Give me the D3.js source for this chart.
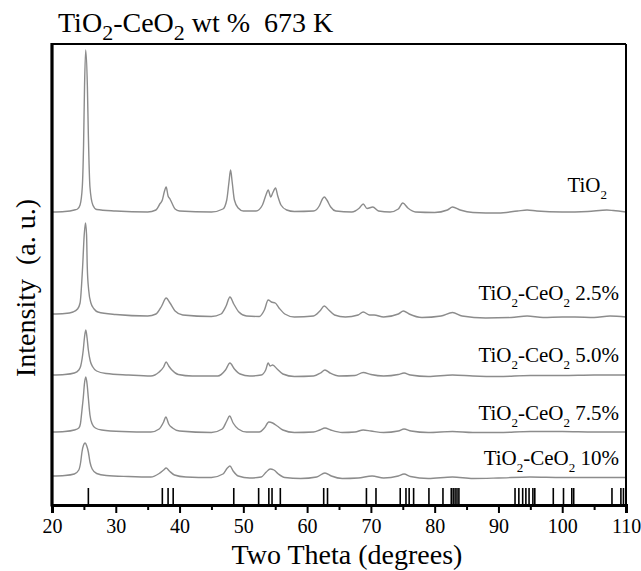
<!DOCTYPE html>
<html><head><meta charset="utf-8">
<script src="https://cdn.jsdelivr.net/npm/d3@7"></script>
<style>html,body{margin:0;padding:0;background:#fff}svg{display:block}</style>
</head><body>
<svg id="c" width="641" height="571"></svg>
<script>
// 2θ (degrees) vs stacked intensity (a.u.)
const tio2 = [[20,293],[22,293.5],[23.5,295],[24.0,296],[24.4,300],[24.75,318],[24.95,360],[25.1,418],[25.28,455],[25.55,418],[25.7,370],[25.95,318],[26.4,300],[27,295.5],[30,294],[35,293],[36.3,295],[36.9,301],[37.3,305],[37.6,313],[37.9,318],[38.2,309],[38.5,306],[38.8,302],[39.3,296],[40,294],[45,293],[46.8,296],[47.4,305],[47.75,323],[48.0,335],[48.25,323],[48.6,305],[49.2,297],[50,294],[52,294],[53,300],[53.6,311],[53.9,315],[54.3,308],[54.6,312],[55.05,317],[55.4,309],[55.9,300],[56.8,295],[58,293.5],[61,294],[61.9,299],[62.4,306],[62.7,308],[63.1,305],[63.7,298],[64.5,294],[67,293],[68.2,297],[68.8,301],[69.4,296.5],[70.3,298],[71.2,294],[73,293],[74.3,296],[75.0,302],[75.8,297],[77,293],[80,292.5],[82,295],[82.8,298],[84,295],[86,292.5],[90,292],[93,294],[94.5,295],[96,294],[100,293],[104,293.5],[107,295],[108,294.5],[110,293]];
const ce25 = [[20,191],[22,191.5],[23.3,193],[24.0,196],[24.4,202],[24.8,238],[25.05,270],[25.25,282],[25.42,270],[25.53,238],[25.75,215],[26.1,202],[26.6,196],[27.2,193],[30,190.5],[35,189],[36.3,191],[37.2,199],[37.9,207],[38.5,202],[39.3,194],[40.5,190],[45,188.5],[46.5,191],[47.3,199],[47.9,208],[48.5,201],[49.3,193],[50.5,189],[52.5,188.5],[53.3,195],[53.9,205],[54.4,203],[55.0,202],[55.6,197],[56.5,191],[58,188],[61,189],[62.0,194],[62.7,199],[63.4,195],[64.3,190],[66,188],[68.0,190],[68.8,193],[69.8,190],[70.5,190],[72,188],[74.3,191],[75.1,194],[76,191],[78,187.5],[81,189],[82.8,192.5],[84.3,189],[88,187],[92,187.5],[94.5,189],[97,187.5],[100,188],[102,188],[105,187.5],[107.5,189],[110,188]];
const ce50 = [[20,130],[22,130.5],[23.5,132],[24.2,135],[24.5,139],[24.9,155],[25.1,168],[25.3,175],[25.5,167],[25.7,155],[26.0,144],[26.4,138],[27.0,134],[28.5,131.5],[32,130],[35.5,129],[36.8,133],[37.5,138],[37.9,143],[38.3,139],[38.8,135],[39.8,130.5],[42,129],[46,129],[47.2,135],[47.9,142],[48.6,136],[49.5,131],[51,129],[52.8,130],[53.5,135],[53.9,142],[54.2,139],[54.6,140],[55.3,136],[56.2,131],[58,128.5],[61,129],[62.1,132],[62.8,135],[63.6,132],[65,129],[67.5,129.5],[68.8,132.5],[70,130.5],[72,129],[74.3,130.5],[75.2,132],[76.2,130],[79,128.5],[82.8,130],[86,129],[90,128.5],[95,129.5],[100,129.5],[105,130],[110,130]];
const ce75 = [[20,73],[22,73.5],[23.5,75],[24.2,77],[24.45,81],[24.7,95],[24.9,107],[25.1,122],[25.3,128],[25.5,121],[25.7,107],[25.95,90],[26.3,81],[26.8,77],[27.8,75],[31,73.5],[35.5,73],[36.8,76],[37.5,83],[37.85,88],[38.3,81],[38.9,77],[40,74],[45,72.5],[46.7,76],[47.4,84],[47.85,89],[48.4,82],[49.2,76],[50.5,73],[52.5,73],[53.3,77],[54.0,83],[54.6,82],[55.3,79],[56.2,75],[58,72.5],[61,73],[62.0,75],[62.8,77],[63.7,75],[65.5,72.5],[67.5,73],[68.8,75],[70,74],[72,72.5],[74.3,74],[75.2,76],[76.3,74],[79,72.5],[82.8,73.5],[86,72.5],[90,72.5],[95,73.5],[100,73.5],[105,73],[110,73]];
const ce10 = [[20,29],[22,29.5],[23.5,31],[24.2,35],[24.5,43],[24.7,53],[24.95,60],[25.2,62],[25.45,59],[25.7,53],[25.95,43],[26.3,36],[27,31.5],[28.5,29.5],[32,28.5],[35.5,28],[36.8,31.5],[37.5,35],[37.9,37],[38.4,34],[39.2,30],[41,28],[45,27.5],[46.8,31],[47.5,37],[47.9,39],[48.4,34],[49.2,29],[51,27],[52.8,28],[53.6,33],[54.2,36],[54.8,35],[55.5,31],[56.5,27.5],[59,26.5],[61.5,28],[62.8,32],[63.8,29],[65.5,26.5],[68,27],[70.2,29],[72,27],[74.3,29],[75.2,31],[76.2,28.5],[79,26.5],[82.8,28],[86,26.5],[90,27],[95,28],[100,27.5],[105,27.5],[110,27.5]];
const seriesNames = ["TiO2", "TiO2-CeO2 2.5%", "TiO2-CeO2 5.0%", "TiO2-CeO2 7.5%", "TiO2-CeO2 10%"];
const seriesData = [tio2, ce25, ce50, ce75, ce10];
const labelSuffix = ["", " 2.5%", " 5.0%", " 7.5%", " 10%"];
const labelLevel = [313, 205, 143, 85, 40];
// reference (JCPDS) line positions and heights
const refPeaks = [25.7,37.3,38.2,39.0,48.5,52.4,54.0,54.5,55.8,62.6,63.2,69.3,70.8,74.6,75.5,76.0,76.7,79.1,81.3,82.6,82.9,83.2,83.5,83.8,92.6,93.2,93.8,94.3,94.8,95.4,95.7,98.6,100.2,101.5,101.8,107.8,109.2,109.6];
const refHeight = 17;
const xTicks = [20,30,40,50,60,70,80,90,100,110];
const xMinor = [25,35,45,55,65,75,85,95,105];

const FF = '"Liberation Serif"';
const svg = d3.select("#c");
const L = 52, R = 626, T = 44, B = 505;
const x = d3.scaleLinear().domain([20,110]).range([L,R]);
const y = d3.scaleLinear().domain([0,461]).range([B,T]);

// curves
const line = d3.line().x(d=>x(d[0])).y(d=>y(d[1])).curve(d3.curveMonotoneX);
svg.selectAll("path.s").data(seriesData).join("path").attr("class","s")
  .attr("d", line).attr("fill","none").attr("stroke","#8c8c8c").attr("stroke-width",1.4);

// reference lines
svg.selectAll("line.ref").data(refPeaks).join("line").attr("class","ref")
  .attr("x1",d=>x(d)).attr("x2",d=>x(d)).attr("y1",y(0)).attr("y2",y(refHeight))
  .attr("stroke","#000").attr("stroke-width",1.6);

// frame
svg.append("line").attr("x1",L).attr("x2",R).attr("y1",T).attr("y2",T).attr("stroke","#000").attr("stroke-width",2.2);
svg.append("line").attr("x1",R).attr("x2",R).attr("y1",T).attr("y2",B).attr("stroke","#000").attr("stroke-width",2);
svg.append("line").attr("x1",L).attr("x2",L).attr("y1",T-1).attr("y2",B+1.5).attr("stroke","#000").attr("stroke-width",3.2);

// x axis
const ax = svg.append("g").attr("transform",`translate(0,${B})`)
  .call(d3.axisBottom(x).tickValues(xTicks).tickSize(8).tickPadding(6).tickFormat(d3.format("d")));
ax.select(".domain").attr("stroke-width",3);
ax.selectAll(".tick line").attr("stroke-width",2);
ax.selectAll("text").style("font-family",FF).style("font-size","20px").attr("fill","#000");
const axm = svg.append("g").attr("transform",`translate(0,${B})`)
  .call(d3.axisBottom(x).tickValues(xMinor).tickSize(5).tickFormat(""));
axm.select(".domain").remove();
axm.selectAll(".tick line").attr("stroke-width",2);

// axis titles
svg.append("text").attr("x",(L+R)/2+8).attr("y",564).attr("text-anchor","middle")
  .style("font-family",FF).style("font-size","28px").text("Two Theta (degrees)");
svg.append("text").attr("transform",`translate(35,${288}) rotate(-90)`).attr("text-anchor","middle")
  .style("font-family",FF).style("font-size","28px").style("white-space","pre").text("Intensity  (a. u.)");

// chart title
const tt = svg.append("text").attr("x",58).attr("y",32).style("font-family",FF).style("font-size","28px");
tt.append("tspan").text("TiO");
tt.append("tspan").style("font-size","22px").attr("dy",8).text("2");
tt.append("tspan").attr("dy",-8).text("-CeO");
tt.append("tspan").style("font-size","22px").attr("dy",8).text("2");
tt.append("tspan").attr("dy",-8).style("white-space","pre").text(" wt %  673 K");

// series labels
seriesNames.forEach((n,i)=>{
  const t = svg.append("text").attr("x",i===0?607:619).attr("y",y(labelLevel[i])).attr("text-anchor","end")
    .style("font-family",FF).style("font-size","21px");
  t.append("tspan").text("TiO");
  t.append("tspan").style("font-size","13px").attr("dy",7).text("2");
  if(i>0){
    t.append("tspan").attr("dy",-7).text("-CeO");
    t.append("tspan").style("font-size","13px").attr("dy",7).text("2");
    t.append("tspan").attr("dy",-7).text(labelSuffix[i]);
  }
});
</script>
</body></html>
